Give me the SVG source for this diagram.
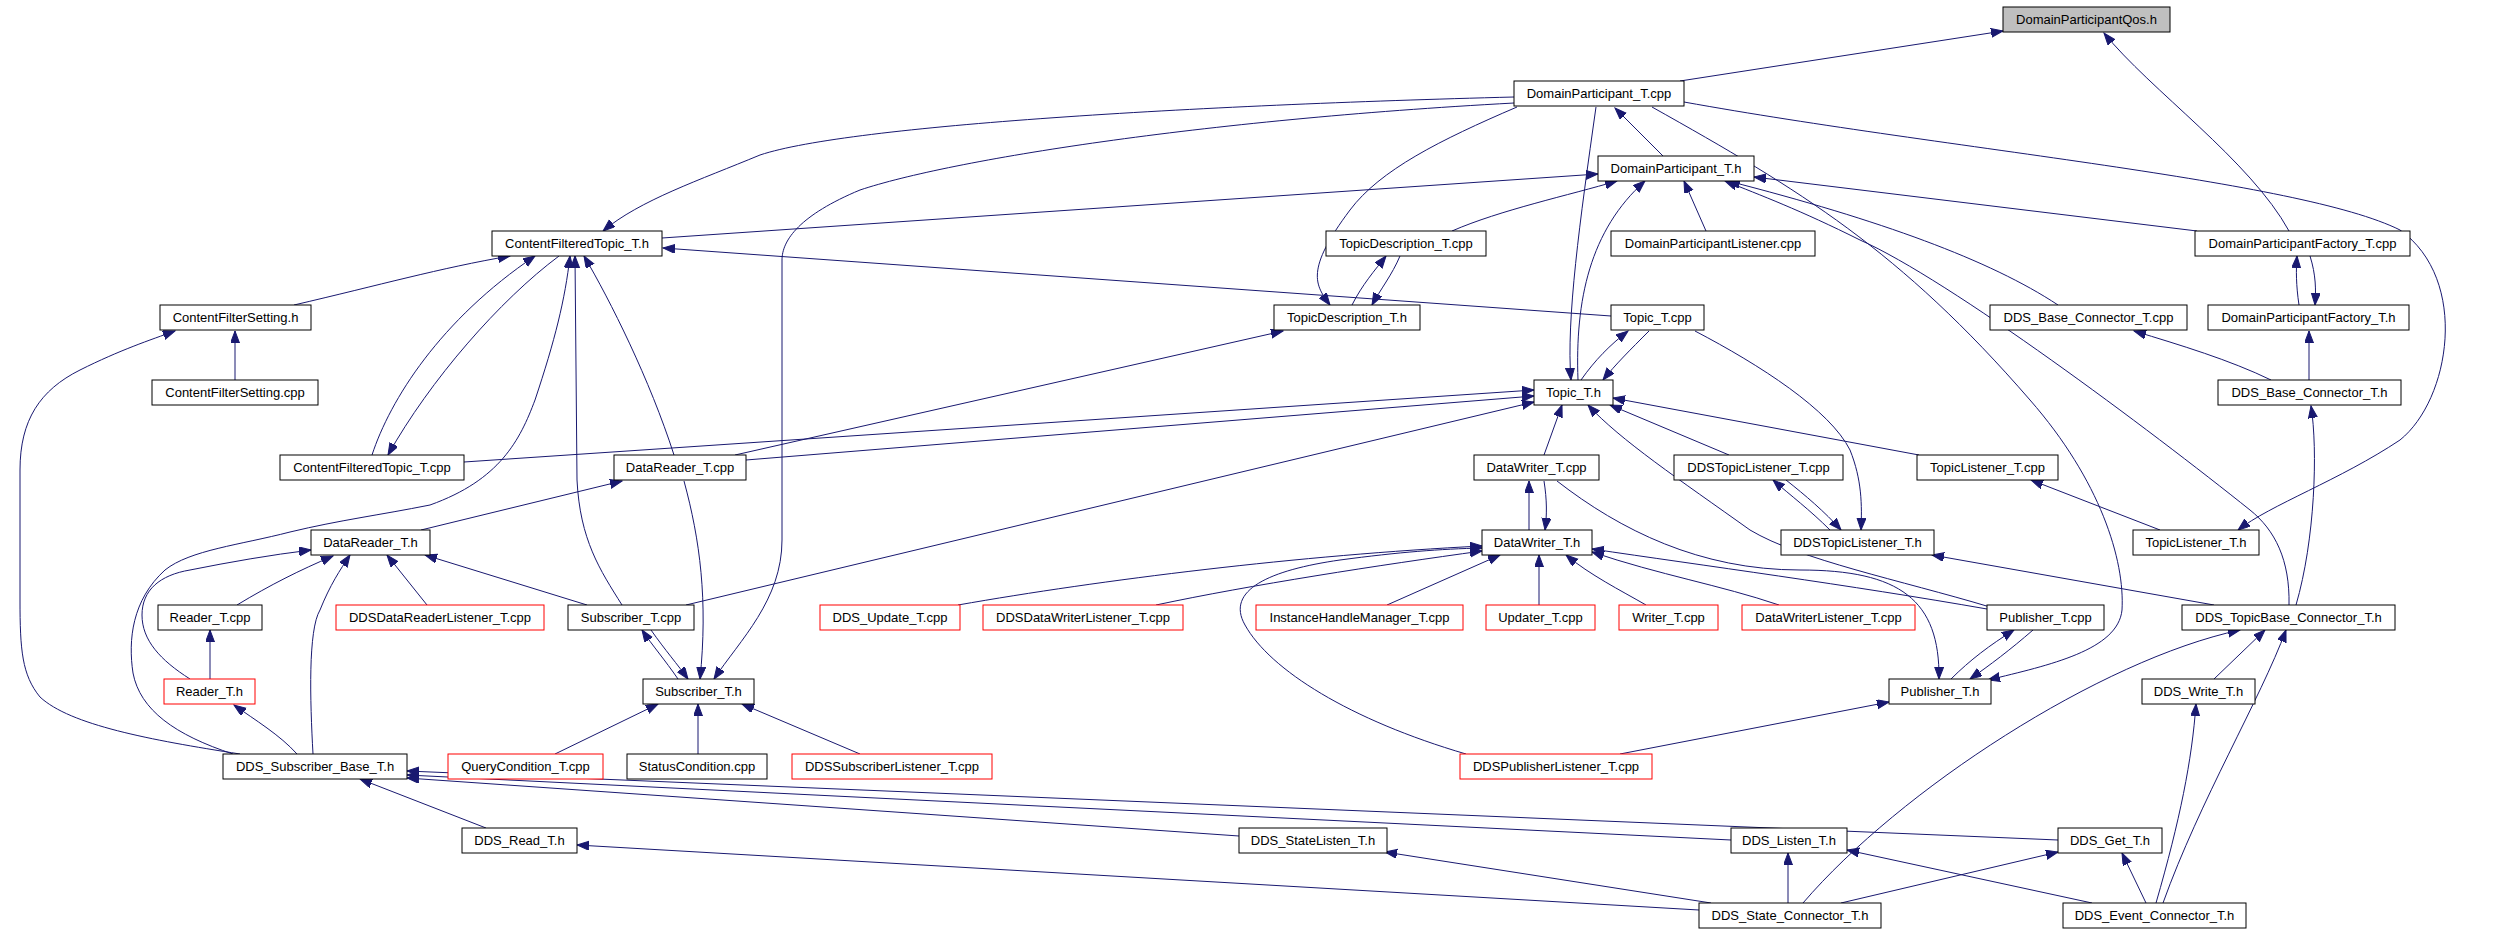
<svg xmlns="http://www.w3.org/2000/svg" width="2515" height="933" viewBox="0 0 2515 933">
<style>
.n rect{fill:#ffffff;stroke:#000000;stroke-width:1}
.n.r rect{stroke:#ff0000}
.n.g rect{fill:#bfbfbf}
.n text{font-family:"Liberation Sans",Arial,sans-serif;font-size:13px;fill:#000000;text-anchor:middle}
#edges path{fill:none;stroke:#191970;stroke-width:1;marker-end:url(#a)}
</style>
<defs>
<marker id="a" markerUnits="userSpaceOnUse" markerWidth="13" markerHeight="10" refX="12" refY="4.5" orient="auto"><path d="M0,0 L12,4.5 L0,9 z" fill="#191970" stroke="#191970" stroke-width="1"/></marker>
</defs>
<rect x="0" y="0" width="2515" height="933" fill="#ffffff"/>
<g id="edges">
<path d="M1680,81 L2003,31"/>
<path d="M2289,231 C2250,160 2150,90 2104,33"/>
<path d="M1663,156 L1615,108"/>
<path d="M1514,97 C1200,105 850,125 760,155 C700,180 640,200 603,231"/>
<path d="M1514,103 C1200,120 950,160 860,190 C800,215 782,240 782,260 L782,540 C782,600 740,640 714,679"/>
<path d="M1517,107 C1440,140 1380,170 1350,210 C1305,270 1315,285 1330,305"/>
<path d="M1596,107 C1580,220 1566,320 1571,380"/>
<path d="M1652,107 C1800,190 1900,250 2030,400 C2100,480 2125,560 2122,610 C2118,650 2050,665 1988,680"/>
<path d="M1684,102 C1950,150 2300,180 2400,230 C2470,280 2450,400 2400,440 C2340,480 2270,505 2238,530"/>
<path d="M662,238 L1598,174"/>
<path d="M1452,231 C1500,210 1570,195 1617,181"/>
<path d="M1706,231 L1684,181"/>
<path d="M2197,231 L1754,177"/>
<path d="M2058,305 C1990,260 1880,220 1728,181"/>
<path d="M2289,605 C2290,560 2275,530 2250,510 C2150,430 1950,280 1860,240 C1800,210 1760,195 1725,181"/>
<path d="M1578,380 C1575,300 1590,230 1645,181"/>
<path d="M2299,305 C2296,285 2296,270 2297,256"/>
<path d="M2310,256 C2316,275 2316,290 2315,305"/>
<path d="M2271,380 C2230,360 2180,345 2134,331"/>
<path d="M2309,380 L2309,331"/>
<path d="M2296,605 C2315,540 2318,450 2311,406"/>
<path d="M1649,331 C1630,350 1615,365 1603,380"/>
<path d="M1581,380 C1595,360 1610,345 1628,331"/>
<path d="M1611,316 L663,248"/>
<path d="M1695,331 C1760,365 1830,410 1850,450 C1862,480 1862,505 1861,530"/>
<path d="M735,455 L1283,331"/>
<path d="M1352,305 C1362,285 1375,270 1386,256"/>
<path d="M1400,256 C1392,275 1380,290 1372,305"/>
<path d="M294,305 C380,285 440,268 510,256"/>
<path d="M372,455 C390,400 440,320 535,256"/>
<path d="M559,256 C500,300 430,380 388,455"/>
<path d="M233,754 C175,735 140,710 133,673 C128,640 132,600 165,570 C190,550 240,545 290,532 C340,520 380,515 430,505 C500,480 520,440 535,400 C555,340 565,300 570,256"/>
<path d="M622,605 C600,570 580,540 577,480 L575,256"/>
<path d="M674,455 C650,380 610,300 584,256"/>
<path d="M746,460 L1534,396"/>
<path d="M464,462 L1534,390"/>
<path d="M686,605 L1534,402"/>
<path d="M1544,455 L1562,405"/>
<path d="M1990,607 C1900,580 1800,560 1750,530 C1680,480 1620,440 1588,405"/>
<path d="M1729,455 L1610,405"/>
<path d="M1919,455 L1613,398"/>
<path d="M1529,530 L1529,481"/>
<path d="M1544,481 C1547,500 1547,515 1545,530"/>
<path d="M1557,481 C1620,530 1700,570 1800,570 C1900,570 1940,600 1939,679"/>
<path d="M958,605 C1100,580 1300,555 1482,546"/>
<path d="M1156,605 C1250,585 1380,565 1482,551"/>
<path d="M1466,754 C1350,720 1270,670 1245,625 C1225,590 1270,570 1340,560 C1400,552 1440,549 1482,548"/>
<path d="M1387,605 L1500,555"/>
<path d="M1539,605 L1539,555"/>
<path d="M1646,605 C1620,590 1590,575 1566,555"/>
<path d="M1779,605 C1720,585 1660,575 1592,552"/>
<path d="M1987,609 C1850,585 1700,565 1592,549"/>
<path d="M1951,679 C1970,660 1990,645 2014,630"/>
<path d="M2033,630 C2010,650 1990,665 1970,679"/>
<path d="M1620,754 L1889,702"/>
<path d="M1830,530 C1810,510 1790,495 1773,480"/>
<path d="M1786,480 C1805,495 1825,512 1841,530"/>
<path d="M2214,605 L1932,555"/>
<path d="M2160,530 L2031,480"/>
<path d="M1803,903 C1900,790 2100,660 2240,630"/>
<path d="M2214,679 L2265,630"/>
<path d="M2163,903 C2200,800 2260,700 2286,630"/>
<path d="M2156,903 C2180,820 2192,760 2196,704"/>
<path d="M1841,903 L2058,852"/>
<path d="M2146,903 L2122,853"/>
<path d="M1788,903 L1788,853"/>
<path d="M2092,903 L1847,850"/>
<path d="M1731,840 L407,775"/>
<path d="M2058,840 L407,771"/>
<path d="M1239,836 L407,778"/>
<path d="M486,828 L360,779"/>
<path d="M1699,910 L577,845"/>
<path d="M1711,903 L1385,852"/>
<path d="M297,754 C280,735 255,720 234,705"/>
<path d="M313,754 C310,700 308,630 320,610 C330,585 340,570 350,555"/>
<path d="M240,754 C150,740 70,725 40,697 C22,675 20,650 20,600 L20,470 C20,420 40,390 80,370 C120,350 150,340 175,331"/>
<path d="M210,679 L210,630"/>
<path d="M190,679 C160,660 142,640 142,615 C142,590 160,575 190,570 C230,562 270,555 311,550"/>
<path d="M237,605 C270,585 300,570 333,556"/>
<path d="M427,605 L387,555"/>
<path d="M587,605 L425,555"/>
<path d="M421,530 L622,481"/>
<path d="M678,679 C665,660 652,645 642,630"/>
<path d="M651,630 C665,650 678,665 688,679"/>
<path d="M684,481 C700,540 708,600 700,679"/>
<path d="M555,754 L658,704"/>
<path d="M698,754 L698,704"/>
<path d="M860,754 L742,704"/>
<path d="M235,380 L235,331"/>
</g>
<g id="qos" class="n g"><rect x="2003" y="7" width="167" height="25"/><text x="2086.5" y="24">DomainParticipantQos.h</text></g>
<g id="dpcpp" class="n"><rect x="1514" y="81" width="170" height="25"/><text x="1599" y="98">DomainParticipant_T.cpp</text></g>
<g id="dph" class="n"><rect x="1598" y="156" width="156" height="25"/><text x="1676" y="173">DomainParticipant_T.h</text></g>
<g id="cfth" class="n"><rect x="492" y="231" width="170" height="25"/><text x="577" y="248">ContentFilteredTopic_T.h</text></g>
<g id="tdcpp" class="n"><rect x="1326" y="231" width="160" height="25"/><text x="1406" y="248">TopicDescription_T.cpp</text></g>
<g id="dplcpp" class="n"><rect x="1611" y="231" width="204" height="25"/><text x="1713" y="248">DomainParticipantListener.cpp</text></g>
<g id="dpfcpp" class="n"><rect x="2195" y="231" width="215" height="25"/><text x="2302.5" y="248">DomainParticipantFactory_T.cpp</text></g>
<g id="cfsh" class="n"><rect x="160" y="305" width="151" height="25"/><text x="235.5" y="322">ContentFilterSetting.h</text></g>
<g id="tdh" class="n"><rect x="1274" y="305" width="146" height="25"/><text x="1347" y="322">TopicDescription_T.h</text></g>
<g id="topiccpp" class="n"><rect x="1611" y="305" width="93" height="25"/><text x="1657.5" y="322">Topic_T.cpp</text></g>
<g id="dbccpp" class="n"><rect x="1990" y="305" width="197" height="25"/><text x="2088.5" y="322">DDS_Base_Connector_T.cpp</text></g>
<g id="dpfh" class="n"><rect x="2208" y="305" width="201" height="25"/><text x="2308.5" y="322">DomainParticipantFactory_T.h</text></g>
<g id="cfscpp" class="n"><rect x="152" y="380" width="166" height="25"/><text x="235" y="397">ContentFilterSetting.cpp</text></g>
<g id="topich" class="n"><rect x="1534" y="380" width="79" height="25"/><text x="1573.5" y="397">Topic_T.h</text></g>
<g id="dbch" class="n"><rect x="2218" y="380" width="183" height="25"/><text x="2309.5" y="397">DDS_Base_Connector_T.h</text></g>
<g id="cftcpp" class="n"><rect x="280" y="455" width="184" height="25"/><text x="372" y="472">ContentFilteredTopic_T.cpp</text></g>
<g id="drcpp" class="n"><rect x="614" y="455" width="132" height="25"/><text x="680" y="472">DataReader_T.cpp</text></g>
<g id="dwcpp" class="n"><rect x="1474" y="455" width="125" height="25"/><text x="1536.5" y="472">DataWriter_T.cpp</text></g>
<g id="ddstlcpp" class="n"><rect x="1674" y="455" width="169" height="25"/><text x="1758.5" y="472">DDSTopicListener_T.cpp</text></g>
<g id="tlcpp" class="n"><rect x="1917" y="455" width="141" height="25"/><text x="1987.5" y="472">TopicListener_T.cpp</text></g>
<g id="drh" class="n"><rect x="311" y="530" width="119" height="25"/><text x="370.5" y="547">DataReader_T.h</text></g>
<g id="dwh" class="n"><rect x="1482" y="530" width="110" height="25"/><text x="1537" y="547">DataWriter_T.h</text></g>
<g id="ddstlh" class="n"><rect x="1781" y="530" width="153" height="25"/><text x="1857.5" y="547">DDSTopicListener_T.h</text></g>
<g id="tlh" class="n"><rect x="2133" y="530" width="126" height="25"/><text x="2196" y="547">TopicListener_T.h</text></g>
<g id="readercpp" class="n"><rect x="158" y="605" width="104" height="25"/><text x="210" y="622">Reader_T.cpp</text></g>
<g id="ddsdrlcpp" class="n r"><rect x="336" y="605" width="208" height="25"/><text x="440" y="622">DDSDataReaderListener_T.cpp</text></g>
<g id="subcpp" class="n"><rect x="568" y="605" width="126" height="25"/><text x="631" y="622">Subscriber_T.cpp</text></g>
<g id="ddsupdcpp" class="n r"><rect x="820" y="605" width="140" height="25"/><text x="890" y="622">DDS_Update_T.cpp</text></g>
<g id="ddsdwlcpp" class="n r"><rect x="983" y="605" width="200" height="25"/><text x="1083" y="622">DDSDataWriterListener_T.cpp</text></g>
<g id="ihmcpp" class="n r"><rect x="1256" y="605" width="207" height="25"/><text x="1359.5" y="622">InstanceHandleManager_T.cpp</text></g>
<g id="updcpp" class="n r"><rect x="1486" y="605" width="109" height="25"/><text x="1540.5" y="622">Updater_T.cpp</text></g>
<g id="writercpp" class="n r"><rect x="1619" y="605" width="99" height="25"/><text x="1668.5" y="622">Writer_T.cpp</text></g>
<g id="dwlcpp" class="n r"><rect x="1742" y="605" width="173" height="25"/><text x="1828.5" y="622">DataWriterListener_T.cpp</text></g>
<g id="pubcpp" class="n"><rect x="1987" y="605" width="117" height="25"/><text x="2045.5" y="622">Publisher_T.cpp</text></g>
<g id="dtbch" class="n"><rect x="2182" y="605" width="213" height="25"/><text x="2288.5" y="622">DDS_TopicBase_Connector_T.h</text></g>
<g id="readerh" class="n r"><rect x="164" y="679" width="91" height="25"/><text x="209.5" y="696">Reader_T.h</text></g>
<g id="subh" class="n"><rect x="643" y="679" width="111" height="25"/><text x="698.5" y="696">Subscriber_T.h</text></g>
<g id="pubh" class="n"><rect x="1889" y="679" width="102" height="25"/><text x="1940" y="696">Publisher_T.h</text></g>
<g id="dwrh" class="n"><rect x="2142" y="679" width="113" height="25"/><text x="2198.5" y="696">DDS_Write_T.h</text></g>
<g id="dsbh" class="n"><rect x="223" y="754" width="184" height="25"/><text x="315" y="771">DDS_Subscriber_Base_T.h</text></g>
<g id="qccpp" class="n r"><rect x="448" y="754" width="155" height="25"/><text x="525.5" y="771">QueryCondition_T.cpp</text></g>
<g id="sccpp" class="n"><rect x="627" y="754" width="140" height="25"/><text x="697" y="771">StatusCondition.cpp</text></g>
<g id="ddsslcpp" class="n r"><rect x="792" y="754" width="200" height="25"/><text x="892" y="771">DDSSubscriberListener_T.cpp</text></g>
<g id="ddsplcpp" class="n r"><rect x="1460" y="754" width="192" height="25"/><text x="1556" y="771">DDSPublisherListener_T.cpp</text></g>
<g id="drdh" class="n"><rect x="462" y="828" width="115" height="25"/><text x="519.5" y="845">DDS_Read_T.h</text></g>
<g id="dslh" class="n"><rect x="1239" y="828" width="148" height="25"/><text x="1313" y="845">DDS_StateListen_T.h</text></g>
<g id="dlh" class="n"><rect x="1731" y="828" width="116" height="25"/><text x="1789" y="845">DDS_Listen_T.h</text></g>
<g id="dgh" class="n"><rect x="2058" y="828" width="104" height="25"/><text x="2110" y="845">DDS_Get_T.h</text></g>
<g id="dsch" class="n"><rect x="1699" y="903" width="182" height="25"/><text x="1790" y="920">DDS_State_Connector_T.h</text></g>
<g id="dech" class="n"><rect x="2063" y="903" width="183" height="25"/><text x="2154.5" y="920">DDS_Event_Connector_T.h</text></g>
</svg>
